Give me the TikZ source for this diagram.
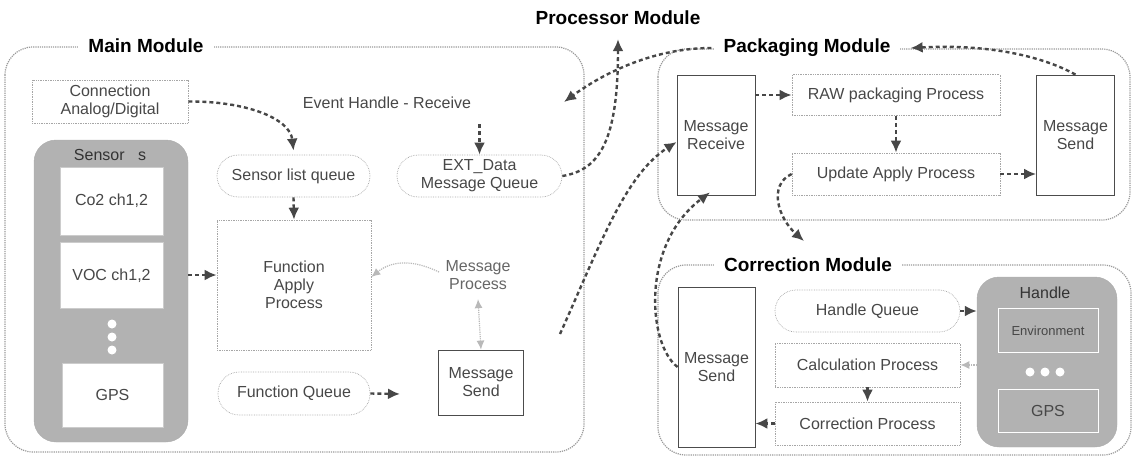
\documentclass[tikz,border=0pt]{standalone}
\usepackage{fontspec}
\setmainfont{Liberation Sans}
\usetikzlibrary{arrows.meta,calc}
\tikzset{
  modframe/.style={draw=gray!80, densely dotted, line width=1.2pt, rounded corners=28pt},
  modtitle/.style={font=\fontsize{19}{22}\selectfont\bfseries, fill=white, inner xsep=10pt, inner ysep=2pt, text=black},
  bodyfont/.style={font=\fontsize{16}{18}\selectfont, text=black!72},
  dbox/.style={bodyfont, draw=gray!70, densely dotted, line width=0.7pt, align=center, inner sep=0pt},
  pill/.style={dbox, rounded corners=21pt},
  sbox/.style={bodyfont, draw=black!70, line width=0.8pt, align=center, inner sep=0pt},
  graybox/.style={fill=gray!60, draw=gray!65, rounded corners=22pt},
  whitebox/.style={bodyfont, fill=white, draw=gray!40, align=center, inner sep=0pt},
  hollowbox/.style={draw=white, line width=1pt, inner sep=0pt, align=center, text=black!72},
  wdot/.style={circle, fill=white, inner sep=0pt, minimum size=9pt},
  arr/.style={-{Latex[length=12pt,width=11pt]}, dash pattern=on 4pt off 3pt, line width=2.4pt, draw=black!72},
  larr/.style={-{Latex[length=9pt,width=8pt]}, densely dotted, line width=1.2pt, draw=gray!55},
  lbiarr/.style={{Latex[length=9pt,width=8pt]}-{Latex[length=9pt,width=8pt]}, densely dotted, line width=1.2pt, draw=gray!55},
}
\begin{document}
\begin{tikzpicture}[x=1pt,y=-1pt]
\useasboundingbox (0,0) rectangle (1141,458);

% ---------- module frames
\draw[modframe] (5,47) rectangle (584,452);
\draw[modframe] (658,49) rectangle (1130,220);
\draw[modframe] (658,265) rectangle (1131,455);

% ---------- titles
\node[modtitle] (mainT) at (146,46) {Main Module};
\node[modtitle, fill=none] (procT) at (618,18) {Processor Module};
\node[modtitle] (packT) at (807,48) {Packaging Module};
\node[modtitle] (corrT) at (808,265) {Correction Module};

% ---------- main module
\node[dbox, minimum width=156pt, minimum height=43pt] (conn) at (110,101.5) {Connection\\Analog/Digital};
\node[bodyfont] (evt) at (387,103) {Event Handle - Receive};

\node[graybox, minimum width=154pt, minimum height=302pt] (sens) at (111,291) {};
\node[bodyfont, text=black!80] (sensT) at (110,155) {Sensor\ \ \ s};
\node[whitebox, minimum width=103pt, minimum height=68pt] (co2) at (111.5,201) {Co2 ch1,2};
\node[whitebox, minimum width=103pt, minimum height=66pt] (voc) at (111.5,275.5) {VOC ch1,2};
\node[wdot] (sd1) at (112,324) {};
\node[wdot] (sd2) at (112,337) {};
\node[wdot] (sd3) at (112,350) {};
\node[whitebox, minimum width=101pt, minimum height=64pt] (gps) at (112.5,395) {GPS};

\node[pill, minimum width=153pt, minimum height=42pt] (slq) at (293.5,176) {Sensor list queue};
\node[dbox, minimum width=154pt, minimum height=130pt] (fap) at (294,285) {Function\\Apply\\Process};
\node[pill, minimum width=152pt, minimum height=43pt] (fq) at (294,393.5) {Function Queue};
\node[pill, minimum width=165pt, minimum height=42pt] (ext) at (479.5,176) {EXT\_Data\\Message Queue};
\node[bodyfont, align=center, text=black!60] (mproc) at (478,275) {Message\\Process};
\node[sbox, minimum width=85pt, minimum height=65pt] (msend1) at (481,382.5) {Message\\Send};

% ---------- packaging module
\node[sbox, minimum width=78pt, minimum height=120pt] (mrecv) at (716,135) {Message\\Receive};
\node[dbox, minimum width=208pt, minimum height=41pt] (raw) at (896,95) {RAW packaging Process};
\node[dbox, minimum width=208pt, minimum height=42pt] (upd) at (896,174) {Update Apply Process};
\node[sbox, minimum width=78pt, minimum height=120pt] (psend) at (1075.5,135) {Message\\Send};

% ---------- correction module
\node[sbox, minimum width=77pt, minimum height=160pt] (csend) at (716.5,367) {Message\\Send};
\node[pill, minimum width=185pt, minimum height=42pt] (hq) at (867.5,311) {Handle Queue};
\node[dbox, minimum width=185pt, minimum height=44pt] (calc) at (867.5,365) {Calculation Process};
\node[dbox, minimum width=185pt, minimum height=43pt] (corr) at (867.5,423.5) {Correction Process};

\node[graybox, minimum width=140pt, minimum height=170pt] (hbox) at (1047,362) {};
\node[bodyfont, text=black!80] (hT) at (1045,293) {Handle};
\node[hollowbox, minimum width=100pt, minimum height=44pt, font=\fontsize{13}{15}\selectfont] (env) at (1048,330.5) {Environment};
\node[wdot] (hd1) at (1030,372) {};
\node[wdot] (hd2) at (1045,372) {};
\node[wdot] (hd3) at (1060,372) {};
\node[hollowbox, minimum width=100pt, minimum height=43pt, bodyfont] (hgps) at (1048,411) {GPS};

% ---------- free ends
\coordinate (fqend) at (400,394);
\coordinate (evtin) at (564,102);
\coordinate (s1) at (560,334);
\coordinate (corrin) at (804,241);

% ---------- connectors: main module
\draw[arr] (conn.east) .. controls (245,101) and (290,118) .. ([yshift=4pt]slq.north);
\draw[arr] (slq.south) -- (fap.north);
\draw[arr] ([yshift=16pt]sens.east) -- ([yshift=10pt]fap.west);
\draw[larr] ([xshift=-3pt,yshift=3pt]mproc.west) .. controls (410,258) and (390,262) .. ([yshift=8pt]fap.east);
\draw[lbiarr] ([yshift=-6pt]mproc.south) -- (msend1.north);
\draw[arr] (fq.east) -- (fqend);
\draw[arr] ([yshift=-12pt]ext.north |- evt.south) -- (ext.north);

% ---------- connectors: between modules
\draw[arr] (ext.east) .. controls (600,170) and (618,140) .. ([yshift=-12pt]procT.south);
\draw[arr] ([xshift=-2pt]packT.west) .. controls (655,48) and (605,72) .. (evtin);
\draw[arr] (s1) .. controls (600,245) and (625,175) .. ([yshift=-7pt]mrecv.west);
\draw[arr] (csend.west) .. controls (648,345) and (640,245) .. ([xshift=-6pt,yshift=3pt]mrecv.south);
\draw[arr] (psend.north) .. controls (1040,55) and (985,44) .. ([xshift=10pt]packT.east);
\draw[arr] (upd.west) .. controls (768,185) and (778,218) .. (corrin);

% ---------- connectors: packaging module
\draw[arr] (mrecv.east |- raw.west) -- (raw.west);
\draw[arr] (raw.south) -- (upd.north);
\draw[arr] (upd.east) -- (psend.west |- upd.east);

% ---------- connectors: correction module
\draw[arr] (hq.east) -- (hbox.west |- hq.east);
\draw[larr] (hbox.west |- calc.east) -- (calc.east);
\draw[arr] (calc.south) -- (corr.north);
\draw[arr] (corr.west) -- (csend.east |- corr.west);
\end{tikzpicture}
\end{document}
